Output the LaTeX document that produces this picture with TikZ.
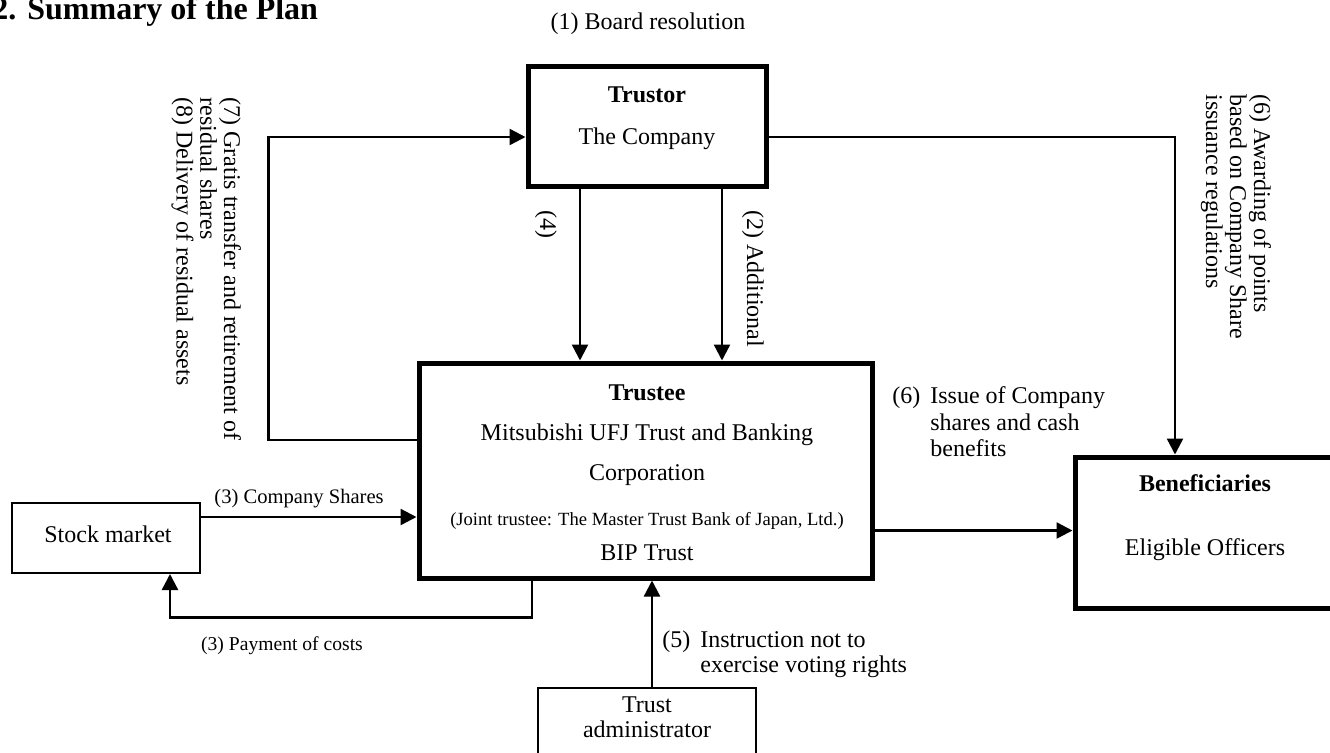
\documentclass[tikz,border=0pt]{standalone}
\usepackage{fontspec}
\setmainfont{Liberation Serif}
\usetikzlibrary{arrows.meta}

\tikzset{
  bigbox/.style={draw,line width=2.5pt,inner sep=0pt},
  thinbox/.style={draw,line width=1pt,inner sep=0pt},
  flow/.style={line width=1.2pt,-{Triangle[length=8pt,width=8pt]}},
  txt/.style={inner sep=0pt,font=\fontsize{12}{14}\selectfont},
  boldtxt/.style={txt,font=\fontsize{12}{14}\selectfont\bfseries},
  sidetxt/.style={txt,rotate=-90,anchor=base west},
}
\newcommand{\linesat}[2][1]{{\renewcommand\arraystretch{#1}\begin{tabular}[t]{@{}l@{}}#2\end{tabular}}}

\begin{document}
\begin{tikzpicture}[x=0.5pt,y=-0.5pt]
  \useasboundingbox (0,0) rectangle (1330,752);
  \clip (0,0) rectangle (1330,752);

  % heading
  \node[txt,anchor=base west,font=\fontsize{16}{19}\selectfont\bfseries] (title) at (-8,19) {2.\hspace{5.5pt}Summary of the Plan};
  \node[txt,anchor=base] (board) at (648,29) {(1) Board resolution};

  % boxes
  \node[bigbox,minimum width=119pt,minimum height=60pt] (trustor) at (647,126) {};
  \node[bigbox,minimum width=226.5pt,minimum height=107.5pt] (trustee) at (645.5,470.5) {};
  \node[bigbox,minimum width=130pt,minimum height=75.5pt] (benef) at (1205,532.5) {};
  \node[thinbox,minimum width=94pt,minimum height=35pt] (stock) at (106,538) {};
  \node[thinbox,minimum width=109pt,minimum height=40pt] (admin) at (647,728) {};

  % box texts
  \node[boldtxt,anchor=base] (trustorhd) at (647,102) {Trustor};
  \node[txt,anchor=base] (trustornm) at (647,144) {The Company};
  \node[boldtxt,anchor=base] (trusteehd) at (647,400) {Trustee};
  \node[txt,anchor=base] (trusteenm) at (647,440) {Mitsubishi UFJ Trust and Banking};
  \node[txt,anchor=base] (trusteecorp) at (647,480) {Corporation};
  \node[txt,anchor=base,font=\fontsize{9.3}{11}\selectfont] (joint) at (647,525) {(Joint trustee: The Master Trust Bank of Japan, Ltd.)};
  \node[txt,anchor=base] (bip) at (647,560) {BIP Trust};
  \node[boldtxt,anchor=base] (benefhd) at (1205,491) {Beneficiaries};
  \node[txt,anchor=base] (benefnm) at (1205,555) {Eligible Officers};
  \node[txt,anchor=base] (stocknm) at (108,542) {Stock market};
  \node[txt,anchor=base] (adminnm) at (647,712) {{\renewcommand\arraystretch{0.893}\begin{tabular}[t]{@{}c@{}}Trust\\administrator\end{tabular}}};

  % connectors
  \draw[flow] (trustor.south) ++(-67,0) coordinate (c4) -- (c4 |- trustee.north);
  \draw[flow] (trustor.south) ++(75,0) coordinate (c2) -- (c2 |- trustee.north);
  \draw[flow] (trustee.west) ++(0,-30.5) -- ++(-148,0) |- ([yshift=-5.5pt]trustor.west);
  \draw[flow] ([yshift=-5.5pt]trustor.east) -| ([xshift=-15pt]benef.north);
  \draw[flow] ([yshift=-30pt]trustee.east) coordinate (c6) -- (c6 -| benef.west);
  \draw[flow] ([yshift=10.5pt]stock.east) coordinate (c3) -- (c3 -| trustee.west);
  \draw[flow] ([xshift=-56.75pt]trustee.south) -- ++(0,37) -| ([xshift=32pt]stock.south);
  \draw[flow] ([xshift=2.5pt]admin.north) coordinate (c5) -- (c5 |- trustee.south);

  % labels
  \node[sidetxt] (lbl4) at (540,210) {(4)};
  \node[sidetxt] (lbl2) at (747,210) {(2) Additional};
  \node[sidetxt] (lbl78) at (224,97) {\linesat[0.82]{(7) Gratis transfer and retirement of\\residual shares\\(8) Delivery of residual assets}};
  \node[sidetxt] (lbl6a) at (1254,94) {\linesat[0.857]{(6) Awarding of points\\based on Company Share\\issuance regulations}};
  \node[txt,anchor=base west] (lbl6b) at (892,403) {{\renewcommand\arraystretch{0.964}\begin{tabular}[t]{@{}l@{\hspace{5pt}}l@{}}(6)&Issue of Company\\&shares and cash\\&benefits\end{tabular}}};
  \node[txt,anchor=base west] (lbl5) at (662,647) {{\renewcommand\arraystretch{0.893}\begin{tabular}[t]{@{}l@{\hspace{5pt}}l@{}}(5)&Instruction not to\\&exercise voting rights\end{tabular}}};
  \node[txt,anchor=base west,font=\fontsize{10.3}{12}\selectfont] (lbl3a) at (214,503) {(3) Company Shares};
  \node[txt,anchor=base,font=\fontsize{9.8}{12}\selectfont] (lbl3b) at (282,650) {(3) Payment of costs};
\end{tikzpicture}
\end{document}
